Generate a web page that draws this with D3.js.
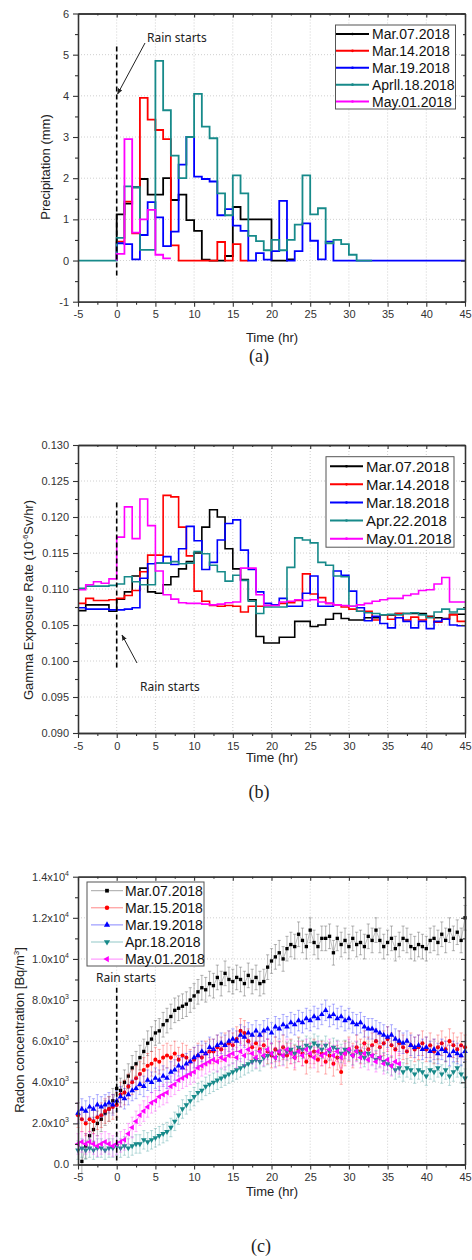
<!DOCTYPE html>
<html>
<head>
<meta charset="utf-8">
<script src="https://cdn.jsdelivr.net/npm/d3@7"></script>
<style>
body { margin: 0; background: #fff; }
svg { display: block; font-family: "Liberation Sans", Arial, sans-serif; }
</style>
</head>
<body>
<svg width="472" height="1260"></svg>
<script>
// ---- (a) precipitation, hourly steps ----
var precipNames = ['Mar.07.2018', 'Mar.14.2018', 'Mar.19.2018', 'Aprll.18.2018', 'May.01.2018']
var precipStart = [0, 0, 0, -5, 0]
var precipMar07 = [1.12, 1.38, 1.78, 1.98, 1.6, 1.6, 2.0, 1.47, 1.6, 0.98, 0.72, 0.02, 0, 0, 0.11, 1.3, 1.0, 1.0, 1.0, 1.0, 0, 0, 0.03]
var precipMar14 = [0.46, 1.43, 0.66, 3.95, 3.42, 3.17, 2.95, 0.37, 0, 0, 0, 0, 0, 0.45, 0, 0.4, 0]
var precipMar19 = [0.42, 0.4, 0.03, 0.62, 1.42, 1.05, 0.35, 0.7, 2.33, 3.0, 2.04, 1.98, 1.92, 1.1, 1.25, 0.85, 0.72, 0, 0.18, 0.02,
    0.23, 1.45, 0, 0.23, 0.9, 0.48, 0.03, 0.46, 0, 0, 0, 0, 0, 0, 0, 0, 0, 0, 0, 0, 0, 0, 0, 0, 0]
var precipApr18 = [0, 0, 0, 0, 0, 0.55, 1.8, 1.78, 0.26, 0.26, 4.85, 3.65, 2.55, 2.0, 3.0, 4.05, 3.25, 2.97, 1.63, 1.1,
    2.07, 1.63, 0.6, 0.47, 0.25, 0.5, 0.25, 0.5, 0.87, 2.07, 1.12, 1.27, 0.42, 0.5, 0.4, 0.14, 0, 0]
var precipMay01 = [0.16, 2.95, 0.68, 1.0, 1.23, 0.14, 0.05]
var precipTicks = [-1, 0, 1, 2, 3, 4, 5, 6]

// ---- (b) gamma exposure rate, hourly steps from -5 hr ----
var gammaNames = ['Mar.07.2018', 'Mar.14.2018', 'Mar.18.2018', 'Apr.22.2018', 'May.01.2018']
var gammaHours = d3.range(-5, 45)
var gammaMar07 = [0.1070, 0.1078, 0.1078, 0.1078, 0.1069, 0.1086, 0.1096, 0.1118, 0.1129, 0.1096,
    0.1094, 0.1106, 0.1117, 0.1128, 0.1138, 0.1150, 0.1186, 0.1210, 0.1200, 0.1156,
    0.1128, 0.1113, 0.1085, 0.1034, 0.1025, 0.1025, 0.1033, 0.1033, 0.1055, 0.1055,
    0.1048, 0.1050, 0.1058, 0.1066, 0.1059, 0.1057, 0.1057, 0.1060, 0.1060, 0.1064,
    0.1064, 0.1066, 0.1066, 0.1066, 0.1066, 0.1062, 0.1060, 0.1059, 0.1065, 0.1065]
var gammaMar14 = [0.1080, 0.1087, 0.1084, 0.1084, 0.1085, 0.1087, 0.1091, 0.1098, 0.1124, 0.1147,
    0.1147, 0.1230, 0.1228, 0.1186, 0.1146, 0.1097, 0.1083, 0.1077, 0.1076, 0.1077,
    0.1076, 0.1068, 0.1076, 0.1076, 0.1077, 0.1078, 0.1080, 0.1081, 0.1084, 0.1121,
    0.1093, 0.1088, 0.1080, 0.1078, 0.1075, 0.1072, 0.1069, 0.1069, 0.1057, 0.1064,
    0.1058, 0.1066, 0.1057, 0.1061, 0.1057, 0.1061, 0.1054, 0.1058, 0.1064, 0.1055]
var gammaMar18 = [0.1074, 0.1072, 0.1072, 0.1072, 0.1071, 0.1071, 0.1072, 0.1074, 0.1115, 0.1135,
    0.1136, 0.1145, 0.1134, 0.1156, 0.1187, 0.1167, 0.1127, 0.1137, 0.1168, 0.1191,
    0.1196, 0.1154, 0.1127, 0.1096, 0.1080, 0.1078, 0.1087, 0.1076, 0.1076, 0.1094,
    0.1118, 0.1076, 0.1076, 0.1125, 0.1119, 0.1097, 0.1074, 0.1056, 0.1062, 0.1052,
    0.1046, 0.1060, 0.1055, 0.1046, 0.1055, 0.1045, 0.1055, 0.1058, 0.1050, 0.1049]
var gammaApr22 = [0.1101, 0.1104, 0.1104, 0.1104, 0.1105, 0.1107, 0.1117, 0.1110, 0.1106, 0.1106,
    0.1136, 0.1136, 0.1138, 0.1135, 0.1136, 0.1152, 0.1149, 0.1133, 0.1124, 0.1111,
    0.1119, 0.1112, 0.1083, 0.1066, 0.1075, 0.1075, 0.1075, 0.1130, 0.1171, 0.1168,
    0.1164, 0.1137, 0.1133, 0.1118, 0.1117, 0.1076, 0.1069, 0.1067, 0.1066, 0.1064,
    0.1065, 0.1064, 0.1066, 0.1067, 0.1064, 0.1060, 0.1068, 0.1072, 0.1068, 0.1072]
var gammaMay01 = [0.1099, 0.1106, 0.1110, 0.1108, 0.1114, 0.1172, 0.1214, 0.1170, 0.1225, 0.1188,
    0.1125, 0.1092, 0.1086, 0.1081, 0.1080, 0.1080, 0.1079, 0.1078, 0.1079, 0.1081,
    0.1082, 0.1129, 0.1129, 0.1092, 0.1077, 0.1077, 0.1082, 0.1083, 0.1085, 0.1084,
    0.1085, 0.1082, 0.1080, 0.1078, 0.1077, 0.1076, 0.1078, 0.1080, 0.1083, 0.1085,
    0.1087, 0.1087, 0.1091, 0.1093, 0.1098, 0.1099, 0.1107, 0.1116, 0.1082, 0.1082]
var gammaTicks = [0.090, 0.095, 0.100, 0.105, 0.110, 0.115, 0.120, 0.125, 0.130]

// ---- (c) radon concentration (x10^3 Bq/m3), every half hour from -5 hr ----
var radonNames = ['Mar.07.2018', 'Mar.15.2018', 'Mar.19.2018', 'Apr.18.2018', 'May.01.2018']
var radonHours = d3.range(-5, 45.25, 0.5)
var radonMar07 = [null, 0.15, 0.9, 1.4, 1.7, 2.0, 2.2, 2.5, 2.7, 3.1,
    3.7, 3.6, 4.0, 4.3, 4.7, 4.9, 5.2, 5.5, 5.9, 6.1,
    6.4, 6.5, 6.8, 7.0, 7.2, 7.5, 7.6, 7.7, 7.8, 8.0,
    8.2, 8.4, 8.6, 8.5, 8.8, 8.7, 9.1, 8.8, 9.3, 9.0,
    8.9, 9.1, 9.0, 8.8, 9.2, 8.9, 9.1, 8.8, 8.9, 9.6,
    9.9, 10.1, 10.3, 10.0, 10.5, 10.7, 10.6, 11.2, 10.9, 10.6,
    11.4, 10.8, 10.6, 11.0, 11.0, 11.1, 10.3, 11.0, 10.7, 10.9,
    10.6, 11.0, 10.7, 10.8, 10.6, 11.1, 10.9, 11.4, 10.9, 10.6,
    10.8, 11.0, 10.5, 10.7, 11.0, 10.9, 10.6, 10.5, 10.7, 10.6,
    10.5, 10.9, 11.0, 10.8, 11.2, 10.9, 11.4, 11.0, 11.3, 10.9,
    12.0]
var radonMar15 = [2.4, 2.2, 2.0, 2.2, 2.1, 2.3, 2.4, 2.6, 2.7, 2.8,
    2.9, 3.4, 3.5, 3.8, 4.0, 4.2, 4.4, 4.6, 4.8, 4.9,
    5.1, 5.0, 5.2, 5.3, 5.2, 5.4, 5.1, 5.3, 5.2, 5.0,
    5.1, 5.3, 5.2, 5.4, 5.5, 5.5, 5.7, 5.6, 5.8, 5.9,
    5.8, 6.1, 6.5, 6.4, 6.0, 5.7, 5.9, 5.6, 5.8, 5.5,
    5.3, 5.6, 5.4, 5.7, 5.3, 5.5, 5.2, 5.6, 5.4, 5.0,
    5.3, 5.5, 5.1, 5.4, 5.0, 5.3, 4.9, 5.2, 4.5, 5.4,
    5.6, 5.3, 5.7, 5.5, 5.9, 5.6, 5.8, 6.0, 5.7, 5.9,
    6.1, 5.8, 5.6, 5.9, 5.7, 5.5, 5.8, 5.6, 5.7, 5.9,
    5.6, 5.8, 5.5, 5.7, 5.9, 5.6, 6.0, 5.8, 5.6, 5.8,
    5.7]
var radonMar19 = [2.5, 2.7, 2.6, 2.8, 2.7, 2.9, 2.8, 2.9, 3.0, 2.9,
    3.1, 3.3, 3.2, 3.4, 3.6, 3.7, 3.9, 3.8, 4.1, 4.0,
    4.2, 4.1, 4.3, 4.2, 4.5, 4.6, 4.8, 4.7, 4.9, 5.0,
    5.2, 5.3, 5.5, 5.4, 5.7, 5.6, 5.8, 5.9, 5.8, 6.0,
    6.1, 6.0, 6.3, 6.2, 6.4, 6.3, 6.5, 6.3, 6.5, 6.6,
    6.4, 6.7, 6.6, 6.8, 6.7, 6.9, 6.8, 7.0, 6.9, 7.1,
    7.0, 7.2, 7.1, 7.3, 7.5, 7.2, 7.3, 7.1, 7.2, 7.0,
    7.1, 6.9, 6.8, 6.9, 6.7, 6.6, 6.6, 6.5, 6.4, 6.3,
    6.2, 6.3, 6.1, 6.0, 5.9, 6.0, 5.8, 5.7, 5.8, 5.6,
    5.7, 5.5, 5.6, 5.4, 5.6, 5.5, 5.3, 5.5, 5.4, 5.3,
    5.5]
var radonApr18 = [0.7, 0.8, 0.7, 0.8, 0.7, 0.8, 0.8, 0.7, 0.8, 0.8,
    0.9, 0.8, 0.9, 0.8, 0.9, 1.0, 1.0, 1.2, 1.1, 1.2,
    1.3, 1.4, 1.5, 1.6, 1.8, 2.1, 2.4, 2.7, 2.9, 3.1,
    3.3, 3.5, 3.6, 3.8, 3.9, 4.0, 4.1, 4.2, 4.3, 4.4,
    4.5, 4.6, 4.7, 4.8, 4.9, 5.0, 5.1, 5.0, 5.2, 5.3,
    5.4, 5.2, 5.5, 5.3, 5.5, 5.6, 5.4, 5.7, 5.6, 5.8,
    5.7, 5.9, 5.8, 5.6, 5.8, 5.5, 5.7, 5.6, 5.4, 5.6,
    5.5, 5.3, 5.5, 5.4, 5.2, 5.4, 5.3, 5.1, 5.2, 5.0,
    4.9, 4.8, 4.6, 4.7, 4.5, 4.7, 4.6, 4.4, 4.6, 4.5,
    4.3, 4.6, 4.5, 4.7, 4.4, 4.6, 4.3, 4.5, 4.7, 4.4,
    4.2]
var radonMay01 = [1.0, 1.1, 1.0, 1.1, 1.0, 0.9, 1.0, 1.1, 1.0, 0.9,
    1.0, 1.1, 1.2, 1.5, 1.8, 2.1, 2.4, 2.6, 2.8, 3.0,
    3.1, 3.3, 3.4, 3.5, 3.8, 3.9, 4.1, 4.2, 4.3, 4.4,
    4.5, 4.7, 4.8, 4.9, 5.0, 5.1, 5.0, 5.2, 5.1, 5.3,
    5.4, 5.2, 5.5, 5.3, 5.6, 5.4, 5.2, 5.5, 5.3, 5.6,
    5.4, 5.2, 5.5, 5.3, 5.6, 5.4, 5.2, 5.5, 5.3, 5.6,
    5.4, 5.2, 5.5, 5.3, 5.4, 5.6, 5.3, 5.5, 5.2, 5.4,
    5.6, 5.3, 5.5, 5.2, 5.4, 5.1, 5.3, 5.0, 5.2, 4.9,
    5.1, 4.8, 5.0, 4.9, null, null, null, null, null, null,
    null, null, null, null, null, null, null, null, null, null,
    null]
var radonErr = [0.6, 0.6, 0.5, 0.45, 0.5]
var radonTicks = [0, 2, 4, 6, 8, 10, 12, 14]
var radonTickLabels = [['0.0', ''], ['2.0x10', '3'], ['4.0x10', '3'], ['6.0x10', '3'], ['8.0x10', '3'],
    ['1.0x10', '4'], ['1.2x10', '4'], ['1.4x10', '4']]

var colors = ['#000000', '#ff0000', '#0000ff', '#178a8a', '#ff00ff']
var hourTicks = d3.range(-5, 46, 5)

var svg = d3.select('svg')
var font = '"Liberation Sans", Arial, sans-serif'
var noteFont = '"Noto Sans", "DejaVu Sans", sans-serif'

var x = d3.scaleLinear().domain([-5, 45]).range([78, 465])
var ya = d3.scaleLinear().domain([-1, 6]).range([301.7, 13.5])
var yb = d3.scaleLinear().domain([0.09, 0.13]).range([733, 445])
var yc = d3.scaleLinear().domain([0, 14]).range([1164.5, 876.7])

svg.append('defs').append('marker')
    .attr('id', 'arrow')
    .attr('viewBox', '0 0 10 10')
    .attr('refX', 9).attr('refY', 5)
    .attr('markerWidth', 6).attr('markerHeight', 6)
    .attr('orient', 'auto')
    .append('path').attr('d', 'M0,1 L10,5 L0,9 z').attr('fill', '#222')

function grid(y, yMajor) {
    var g = svg.append('g')
    g.selectAll('line.gx').data(hourTicks.slice(1, -1)).enter().append('line')
        .attr('x1', d => x(d)).attr('x2', d => x(d))
        .attr('y1', y.range()[1]).attr('y2', y.range()[0])
        .attr('stroke', '#c4c4c4').attr('stroke-width', 0.8).attr('stroke-dasharray', '1,2')
    g.selectAll('line.gy').data(yMajor.slice(1, -1)).enter().append('line')
        .attr('x1', x.range()[0]).attr('x2', x.range()[1])
        .attr('y1', d => y(d)).attr('y2', d => y(d))
        .attr('stroke', '#c4c4c4').attr('stroke-width', 0.8).attr('stroke-dasharray', '1,2')
}

function styleAxis(g) {
    g.attr('font-family', font).attr('font-size', 11).attr('color', '#333')
    g.select('.domain').attr('stroke-width', 1.3)
    g.selectAll('.tick line').attr('stroke-width', 1.1)
}

function frame(y, yMajor, yMinor, fmt) {
    var top = y.range()[1], bottom = y.range()[0]
    var xMinor = hourTicks.slice(0, -1).map(d => d + 2.5)
    var l = x.range()[0], r = x.range()[1]
    svg.append('g').attr('transform', 'translate(0,' + bottom + ')')
        .call(d3.axisBottom(x).tickValues(xMinor).tickSize(3).tickSizeOuter(0).tickFormat(''))
        .call(styleAxis)
    svg.append('g').attr('transform', 'translate(0,' + bottom + ')')
        .call(d3.axisBottom(x).tickValues(hourTicks).tickSize(5).tickPadding(4).tickSizeOuter(0).tickFormat(d => String(d)))
        .call(styleAxis)
    svg.append('g').attr('transform', 'translate(0,' + top + ')')
        .call(d3.axisTop(x).tickValues(hourTicks).tickSize(-4).tickSizeOuter(0).tickFormat(''))
        .call(styleAxis)
    svg.append('g').attr('transform', 'translate(0,' + top + ')')
        .call(d3.axisTop(x).tickValues(xMinor).tickSize(-2).tickSizeOuter(0).tickFormat(''))
        .call(styleAxis)
    svg.append('g').attr('transform', 'translate(' + l + ',0)')
        .call(d3.axisLeft(y).tickValues(yMinor).tickSize(3).tickSizeOuter(0).tickFormat(''))
        .call(styleAxis)
    var left = svg.append('g').attr('transform', 'translate(' + l + ',0)')
        .call(d3.axisLeft(y).tickValues(yMajor).tickSize(5).tickPadding(4).tickSizeOuter(0).tickFormat(fmt))
        .call(styleAxis)
    svg.append('g').attr('transform', 'translate(' + r + ',0)')
        .call(d3.axisRight(y).tickValues(yMajor).tickSize(-4).tickSizeOuter(0).tickFormat(''))
        .call(styleAxis)
    svg.append('g').attr('transform', 'translate(' + r + ',0)')
        .call(d3.axisRight(y).tickValues(yMinor).tickSize(-2).tickSizeOuter(0).tickFormat(''))
        .call(styleAxis)
    return left
}

function label(txt, cx, cy, size, family, rotate) {
    return svg.append('text')
        .attr('transform', 'translate(' + cx + ',' + cy + ')' + (rotate ? ' rotate(-90)' : ''))
        .attr('text-anchor', 'middle').attr('dy', '0.35em')
        .attr('font-family', family || font).attr('font-size', size).attr('fill', '#222')
        .text(txt)
}

function rainNote(tx, ty, fromX, fromY, toX, toY, dashY1, dashY2) {
    svg.append('line').attr('x1', x(0)).attr('x2', x(0)).attr('y1', dashY1).attr('y2', dashY2)
        .attr('stroke', '#000').attr('stroke-width', 1.6).attr('stroke-dasharray', '5,3')
    svg.append('text').attr('x', tx).attr('y', ty)
        .attr('font-family', noteFont).attr('font-size', 12).attr('fill', '#222').text('Rain starts')
    if (fromX != null) {
        svg.append('line').attr('x1', fromX).attr('y1', fromY).attr('x2', toX).attr('y2', toY)
            .attr('stroke', '#222').attr('stroke-width', 1).attr('marker-end', 'url(#arrow)')
    }
}

function lineLegend(bx, by, bw, bh, names, step, fs, x1, x2, tx) {
    svg.append('rect').attr('x', bx).attr('y', by).attr('width', bw).attr('height', bh)
        .attr('fill', '#fff').attr('stroke', '#555').attr('stroke-width', 1)
    names.forEach(function (n, i) {
        var cy = by + step * (i + 0.5) + 0.5
        svg.append('line').attr('x1', x1).attr('x2', x2).attr('y1', cy).attr('y2', cy)
            .attr('stroke', colors[i]).attr('stroke-width', 2)
        svg.append('circle').attr('cx', (x1 + x2) / 2).attr('cy', cy).attr('r', 1.3).attr('fill', colors[i])
        svg.append('text').attr('x', tx).attr('y', cy).attr('dy', '0.36em')
            .attr('font-family', font).attr('font-size', fs).attr('fill', '#111').text(n)
    })
}

// ================= (a) =================
grid(ya, precipTicks)
var precipSeries = [precipMar07, precipMar14, precipMar19, precipApr18, precipMay01]
var stepA = d3.line().curve(d3.curveStepAfter).x(d => x(d[0])).y(d => ya(d[1]))
precipSeries.forEach(function (vals, k) {
    var s = precipStart[k]
    var pts = [[s, 0]].concat(vals.map((v, i) => [s + i, v]))
    pts.push([s + vals.length, vals[vals.length - 1]])
    svg.append('path').attr('d', stepA(pts)).attr('fill', 'none')
        .attr('stroke', colors[k]).attr('stroke-width', 1.8)
})
frame(ya, precipTicks, d3.range(-0.5, 6, 1), d => String(d))
rainNote(147, 41.5, 145, 43, 117.6, 94, ya(5.2), ya(-0.4))
lineLegend(335.5, 25, 120, 84, precipNames, 16.9, 14, 336, 369, 372)
label('Precipitation (mm)', 45, 167, 13, font, true)
label('Time (hr)', 272, 337, 13)
label('(a)', 259, 356, 18, '"Liberation Serif", "Times New Roman", serif')

// ================= (b) =================
grid(yb, gammaTicks)
var gammaSeries = [gammaMar07, gammaMar14, gammaMar18, gammaApr22, gammaMay01]
var stepB = d3.line().curve(d3.curveStepAfter).x(d => x(d[0])).y(d => yb(d[1]))
gammaSeries.forEach(function (vals, k) {
    var pts = vals.map((v, i) => [gammaHours[i], v])
    pts.push([45, vals[vals.length - 1]])
    svg.append('path').attr('d', stepB(pts)).attr('fill', 'none')
        .attr('stroke', colors[k]).attr('stroke-width', 1.6)
})
frame(yb, gammaTicks, d3.range(0.0925, 0.13, 0.005), d3.format('.3f'))
rainNote(140, 691, 137, 663, 122, 635, yb(0.122), yb(0.0989))
lineLegend(326, 456.7, 128, 90.5, gammaNames, 18.1, 15, 330, 363, 366)
var tb = svg.append('text')
    .attr('transform', 'translate(28,600) rotate(-90)')
    .attr('text-anchor', 'middle').attr('dy', '0.35em')
    .attr('font-family', font).attr('font-size', 13).attr('fill', '#222')
tb.append('tspan').text('Gamma Exposure Rate (10')
tb.append('tspan').attr('font-size', 8).attr('dy', -5).text('-6')
tb.append('tspan').attr('dy', 5).text('Sv/hr)')
label('Time (hr)', 272, 757, 13)
label('(b)', 259, 792, 18, '"Liberation Serif", "Times New Roman", serif')

// ================= (c) =================
grid(yc, radonTicks)
var radonSeries = [radonMar07, radonMar15, radonMar19, radonApr18, radonMay01]
var symbols = [
    { type: d3.symbolSquare, size: 11, rot: 0 },
    { type: d3.symbolCircle, size: 13, rot: 0 },
    { type: d3.symbolTriangle, size: 14, rot: 0 },
    { type: d3.symbolTriangle, size: 14, rot: 180 },
    { type: d3.symbolTriangle, size: 14, rot: -90 }
]
var lineC = d3.line().defined(d => d[1] != null).x(d => x(d[0])).y(d => yc(d[1]))
radonSeries.forEach(function (vals, k) {
    var pts = vals.map((v, i) => [radonHours[i], v])
    var good = pts.filter(d => d[1] != null)
    var e = radonErr[k]
    var col = colors[k]
    var barCol = k === 0 ? '#555' : col
    var barOp = k === 0 ? 0.7 : 0.5
    var g = svg.append('g')
    g.append('path').attr('d', lineC(pts)).attr('fill', 'none')
        .attr('stroke', barCol).attr('stroke-width', 0.7).attr('stroke-opacity', 0.55)
    g.selectAll('line.eb').data(good).enter().append('line')
        .attr('x1', d => x(d[0])).attr('x2', d => x(d[0]))
        .attr('y1', d => yc(d[1] - e)).attr('y2', d => yc(d[1] + e))
        .attr('stroke', barCol).attr('stroke-width', 0.6).attr('stroke-opacity', barOp)
    ;[-1, 1].forEach(function (sgn) {
        g.selectAll('line.cap' + sgn).data(good).enter().append('line')
            .attr('x1', d => x(d[0]) - 1.6).attr('x2', d => x(d[0]) + 1.6)
            .attr('y1', d => yc(d[1] + sgn * e)).attr('y2', d => yc(d[1] + sgn * e))
            .attr('stroke', barCol).attr('stroke-width', 0.6).attr('stroke-opacity', barOp)
    })
    var sym = d3.symbol().type(symbols[k].type).size(symbols[k].size)
    g.selectAll('path.pt').data(good).enter().append('path')
        .attr('d', sym)
        .attr('transform', d => 'translate(' + x(d[0]) + ',' + yc(d[1]) + ') rotate(' + symbols[k].rot + ')')
        .attr('fill', col)
})
var leftC = frame(yc, radonTicks, d3.range(1, 14, 2), () => '')
leftC.selectAll('.tick text').remove()
radonTicks.forEach(function (v, i) {
    var t = svg.append('text').attr('x', 69).attr('y', yc(v)).attr('dy', '0.36em')
        .attr('text-anchor', 'end').attr('font-family', font).attr('font-size', 11).attr('fill', '#333')
    t.append('tspan').text(radonTickLabels[i][0])
    if (radonTickLabels[i][1]) {
        t.append('tspan').attr('font-size', 7).attr('dy', -5).text(radonTickLabels[i][1])
    }
})
rainNote(96, 982, null, null, null, null, yc(8.6), yc(0.2))
// legend (c)
svg.append('rect').attr('x', 87).attr('y', 882).attr('width', 117).attr('height', 84)
    .attr('fill', '#fff').attr('stroke', '#555').attr('stroke-width', 1)
radonNames.forEach(function (n, i) {
    var cy = 890.7 + i * 17.1
    var col = colors[i]
    svg.append('line').attr('x1', 91).attr('x2', 123).attr('y1', cy).attr('y2', cy)
        .attr('stroke', i === 0 ? '#444' : col).attr('stroke-width', 0.8).attr('stroke-opacity', 0.6)
    svg.append('path').attr('d', d3.symbol().type(symbols[i].type).size(symbols[i].size + 3))
        .attr('transform', 'translate(107,' + cy + ') rotate(' + symbols[i].rot + ')')
        .attr('fill', col)
    svg.append('text').attr('x', 125).attr('y', cy).attr('dy', '0.36em')
        .attr('font-family', font).attr('font-size', 14).attr('fill', '#111').text(n)
})
var tc = svg.append('text')
    .attr('transform', 'translate(19,1030) rotate(-90)')
    .attr('text-anchor', 'middle').attr('dy', '0.35em')
    .attr('font-family', font).attr('font-size', 13).attr('fill', '#222')
tc.append('tspan').text('Radon concentration [Bq/m')
tc.append('tspan').attr('font-size', 8).attr('dy', -5).text('3')
tc.append('tspan').attr('dy', 5).text(']')
label('Time (hr)', 272, 1191, 13)
label('(c)', 261, 1246, 18, '"Liberation Serif", "Times New Roman", serif')
</script>
</body>
</html>
